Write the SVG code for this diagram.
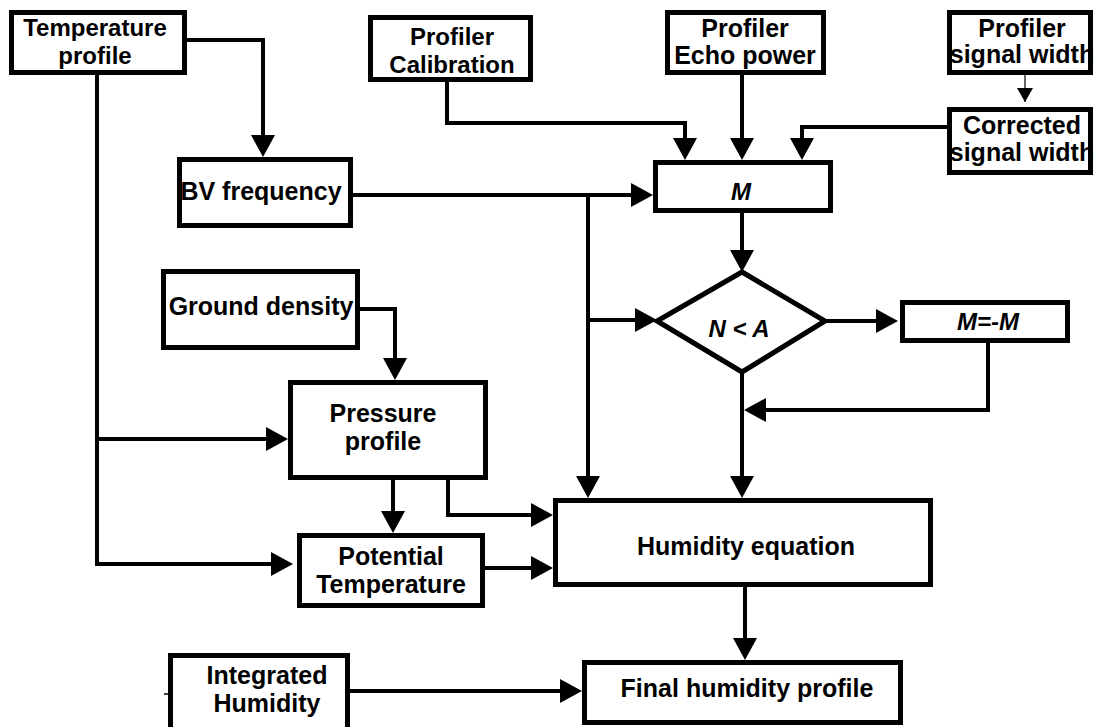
<svg xmlns="http://www.w3.org/2000/svg" width="1095" height="727" viewBox="0 0 1095 727">
<style>
.box{fill:#fff;stroke:#000;stroke-width:5}
.t{font-family:"Liberation Sans",Arial,sans-serif;font-weight:bold;font-size:25px;text-anchor:middle;fill:#000}
.s{font-size:24px}
.i{font-style:italic;font-size:24px}
.c{fill:none;stroke:#000;stroke-width:4;marker-end:url(#ah)}
</style>
<defs>
<marker id="ah" markerUnits="userSpaceOnUse" markerWidth="22" markerHeight="24" refX="14" refY="12" orient="auto"><path d="M0,0 L22,12 L0,24 Z" fill="#000"/></marker>
<marker id="ahs" markerUnits="userSpaceOnUse" markerWidth="16" markerHeight="16" refX="14" refY="8" orient="auto"><path d="M0,0 L14,8 L0,16 Z" fill="#000"/></marker>
</defs>
<g id="connectors">
<path class="c" d="M187,40 H263 V149"/>
<path class="c" d="M97,75 V564 H285"/>
<path class="c" d="M97,439 H280"/>
<path class="c" d="M353,195 H645"/>
<path class="c" d="M588,195 V490"/>
<path class="c" d="M588,320 H649"/>
<path class="c" d="M447,82 V123 H685 V152"/>
<path class="c" d="M742,75 V152"/>
<path class="c" d="M947,127 H802 V152"/>
<path d="M1025,75 V102" fill="none" stroke="#000" stroke-width="1.2" marker-end="url(#ahs)"/>
<path class="c" d="M742,213 V264"/>
<path class="c" d="M825,321 H890"/>
<path class="c" d="M988,343 V410 H752"/>
<path class="c" d="M742,372 V490"/>
<path class="c" d="M360,309 H395 V372"/>
<path class="c" d="M393,480 V525"/>
<path class="c" d="M448,480 V515 H545"/>
<path class="c" d="M485,568 H545"/>
<path class="c" d="M745,587 V652"/>
<path class="c" d="M350,691 H574"/>
<path d="M164,694 H168" stroke="#000" stroke-width="1.5"/>
</g>
<g id="temperature-profile"><rect class="box" x="11.5" y="12.5" width="173" height="60"/><text class="t s" x="95" y="36">Temperature</text><text class="t s" x="95" y="64">profile</text></g>
<g id="bv-frequency"><rect class="box" x="179.5" y="159.5" width="171" height="66"/><text class="t" x="261" y="200">BV frequency</text></g>
<g id="profiler-calibration"><rect class="box" x="370.5" y="17.5" width="160" height="62"/><text class="t s" x="452" y="45">Profiler</text><text class="t s" x="452" y="73">Calibration</text></g>
<g id="profiler-echo-power"><rect class="box" x="667.5" y="12.5" width="156" height="60"/><text class="t" x="745" y="37">Profiler</text><text class="t" x="745" y="64">Echo power</text></g>
<g id="profiler-signal-width"><rect class="box" x="949.5" y="12.5" width="141" height="60"/><text class="t" x="1022" y="37">Profiler</text><text class="t" x="1022" y="63">signal width</text></g>
<g id="corrected-signal-width"><rect class="box" x="949.5" y="109.5" width="141" height="63"/><text class="t" x="1022" y="134">Corrected</text><text class="t" x="1022" y="161">signal width</text></g>
<g id="m"><rect class="box" x="655.5" y="162.5" width="175" height="48"/><text class="t i" x="741" y="200">M</text></g>
<g id="n-less-a"><polygon class="box" points="742,272 825,321 742,372 657,321"/><text class="t i" x="739" y="337">N &lt; A</text></g>
<g id="m-neg"><rect class="box" x="902.5" y="302.5" width="165" height="38"/><text class="t i" x="988" y="330">M=-M</text></g>
<g id="ground-density"><rect class="box" x="163.5" y="271.5" width="194" height="76"/><text class="t" x="261" y="315">Ground density</text></g>
<g id="pressure-profile"><rect class="box" x="290.5" y="382.5" width="195" height="95"/><text class="t" x="383" y="422">Pressure</text><text class="t" x="383" y="450">profile</text></g>
<g id="potential-temperature"><rect class="box" x="299.5" y="535.5" width="183" height="70"/><text class="t" x="391" y="565">Potential</text><text class="t" x="391" y="593">Temperature</text></g>
<g id="humidity-equation"><rect class="box" x="555.5" y="500.5" width="375" height="84"/><text class="t" x="746" y="555">Humidity equation</text></g>
<g id="final-humidity-profile"><rect class="box" x="584.5" y="662.5" width="316" height="60"/><text class="t" x="747" y="697">Final humidity profile</text></g>
<g id="integrated-humidity"><rect class="box" x="170.5" y="655.5" width="177" height="80"/><text class="t" x="267" y="684">Integrated</text><text class="t" x="267" y="712">Humidity</text></g>
</svg>
